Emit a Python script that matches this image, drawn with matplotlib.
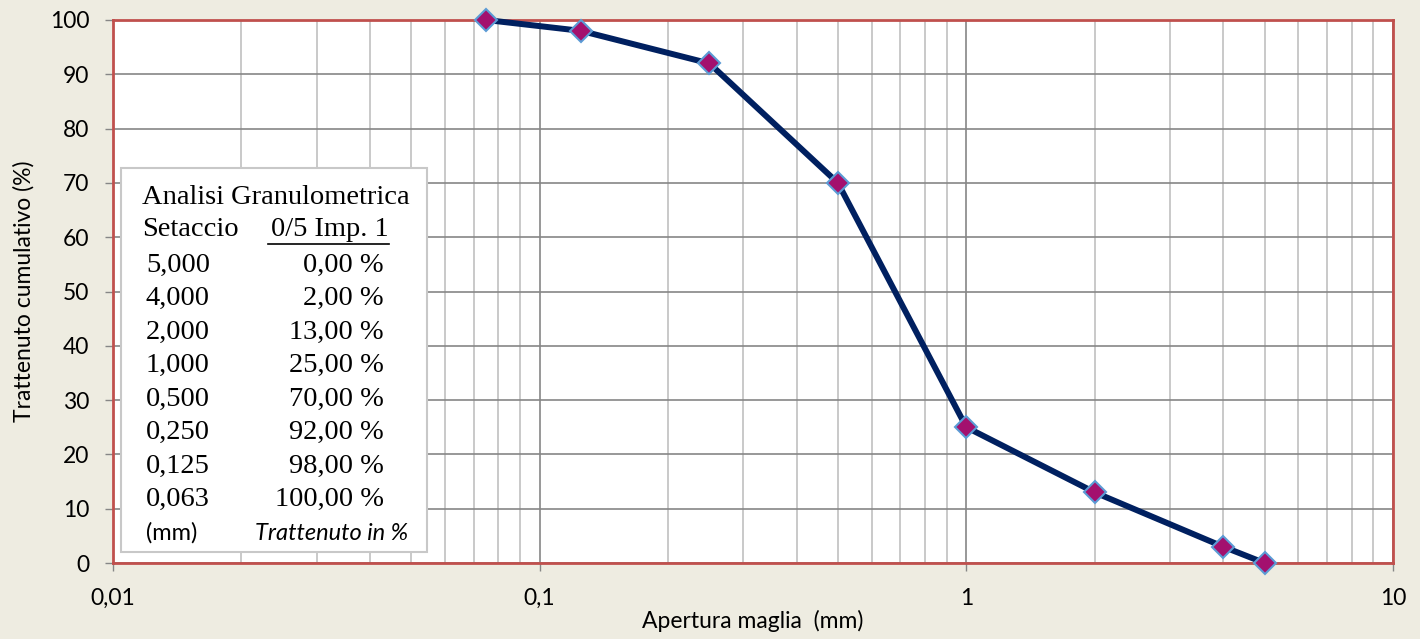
import numpy as np
import matplotlib
matplotlib.use('Agg')
import matplotlib.pyplot as plt
from matplotlib.ticker import FixedLocator, FuncFormatter, NullFormatter

# ─── data ───
apertura = [0.075, 0.125, 0.25, 0.5, 1.0, 2.0, 4.0, 5.0]   # mm
trattenuto = [100, 98, 92, 70, 25, 13, 3, 0]                # %

# table in the inset box
setacci = ['5,000', '4,000', '2,000', '1,000', '0,500', '0,250', '0,125', '0,063']
tab_trattenuto = ['0,00 %', '2,00 %', '13,00 %', '25,00 %', '70,00 %',
                  '92,00 %', '98,00 %', '100,00 %']

x_ticks = [0.01, 0.1, 1, 10]
x_tick_labels = ['0,01', '0,1', '1', '10']
y_ticks = list(range(0, 101, 10))

W, H = 1420, 639
BG = '#EEECE1'
SANS = ['Lato', 'DejaVu Sans']
SERIF = ['Liberation Serif', 'DejaVu Serif']

fig = plt.figure(figsize=(W / 100, H / 100), dpi=100, facecolor=BG)
ax = fig.add_axes([113 / W, (H - 563) / H, (1393 - 113) / W, (563 - 20) / H])
ax.set_facecolor('white')

ax.set_xscale('log')
ax.set_xlim(0.01, 10)
ax.set_ylim(0, 100)

# grid
ax.xaxis.set_major_locator(FixedLocator(x_ticks))
ax.xaxis.set_major_formatter(FuncFormatter(lambda v, p: x_tick_labels[x_ticks.index(v)] if v in x_ticks else ''))
minors = [m * d for d in (0.01, 0.1, 1) for m in range(2, 10)]
ax.xaxis.set_minor_locator(FixedLocator(minors))
ax.xaxis.set_minor_formatter(NullFormatter())
ax.set_yticks(y_ticks)
ax.grid(True, which='major', axis='both', color='#868686', linewidth=1.2)
ax.grid(True, which='minor', axis='x', color='#C0C0C0', linewidth=1.2)
ax.set_axisbelow(True)

ax.tick_params(axis='both', which='major', direction='out', length=6,
               width=1, color='#868686', labelsize=16.5)
ax.tick_params(axis='x', which='minor', length=0)
ax.tick_params(axis='x', pad=12)
ax.tick_params(axis='y', pad=11)
for lab in ax.get_xticklabels() + ax.get_yticklabels():
    lab.set_family(SANS)

for s in ax.spines.values():
    s.set_color('#C0504D')
    s.set_linewidth(2)

# series
ax.plot(apertura, trattenuto, color='#002060', linewidth=4.3, zorder=4,
        solid_joinstyle='round', clip_on=False)
ax.plot(apertura, trattenuto, linestyle='none', marker='D', markersize=11,
        markerfacecolor='#A3106E', markeredgecolor='#5B9BD5',
        markeredgewidth=1.5, zorder=5, clip_on=False)

ax.set_xlabel('Apertura maglia  (mm)', fontsize=16.5, family=SANS, labelpad=1)
ax.set_ylabel('Trattenuto cumulativo (%)', fontsize=16.5, family=SANS, labelpad=11)


# ─── inset table box ───
def fx(px):
    return px / W


def fy(py):
    return (H - py) / H


box = plt.Rectangle((fx(121), fy(552)), fx(427) - fx(121), fy(168) - fy(552),
                    transform=fig.transFigure, facecolor='white',
                    edgecolor='#C8C8C8', linewidth=1.5, zorder=10)
fig.add_artist(box)

fs = 20.5
fig.text(fx(142), fy(197), 'Analisi Granulometrica', fontsize=fs, family=SERIF,
         va='center', ha='left', zorder=11)
fig.text(fx(142), fy(230), 'Setaccio', fontsize=fs, family=SERIF,
         va='center', ha='left', zorder=11)
fig.text(fx(389), fy(230), '0/5 Imp. 1', fontsize=fs, family=SERIF,
         va='center', ha='right', zorder=11)
fig.add_artist(plt.Line2D([fx(268), fx(389)], [fy(244), fy(244)],
                          transform=fig.transFigure, color='black',
                          linewidth=1.2, zorder=11))

row_y0, row_dy = 265, 33.5
for i, (s, v) in enumerate(zip(setacci, tab_trattenuto)):
    y = row_y0 + i * row_dy
    fig.text(fx(146), fy(y), s, fontsize=fs, family=SERIF, va='center',
             ha='left', zorder=11)
    fig.text(fx(384), fy(y), v, fontsize=fs, family=SERIF, va='center',
             ha='right', zorder=11)

y = row_y0 + len(setacci) * row_dy
fig.text(fx(146), fy(y), '(mm)', fontsize=17, family=SANS, va='center',
         ha='left', zorder=11)
fig.text(fx(408), fy(y), 'Trattenuto in %', fontsize=17, family=SANS,
         style='italic', va='center', ha='right', zorder=11)

fig.savefig('out.png', dpi=100, facecolor=BG)
